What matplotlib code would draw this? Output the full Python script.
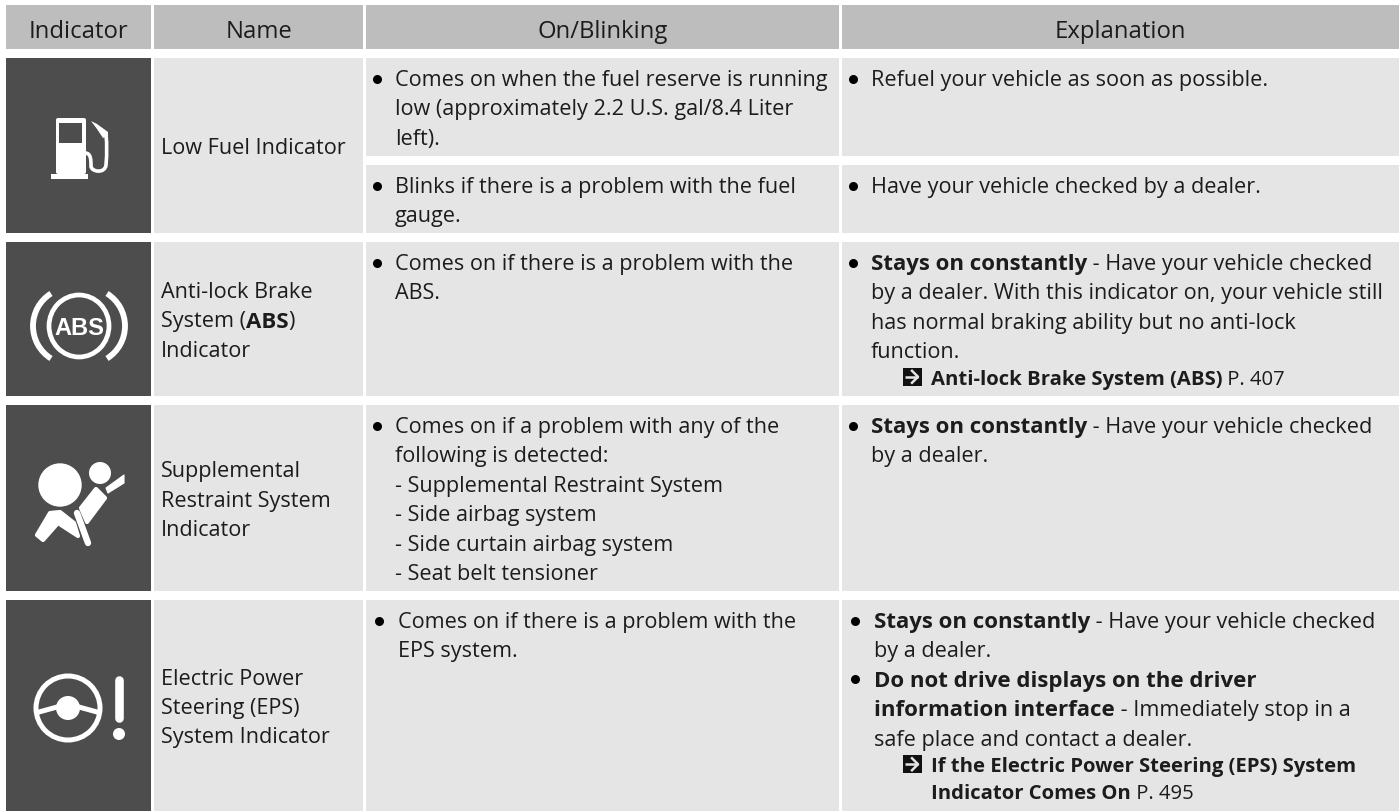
import matplotlib
matplotlib.use("Agg")
import matplotlib.pyplot as plt
from matplotlib.patches import Rectangle, Circle, Ellipse, Arc, Polygon, FancyBboxPatch, PathPatch
from matplotlib.path import Path

plt.rcParams['font.family'] = ['Open Sans', 'DejaVu Sans']

# Table text ("**" marks bold, "• " a bullet, "> " a cross reference, "+" its second line)
headers = ["Indicator", "Name", "On/Blinking", "Explanation"]

names = [
    ["Low Fuel Indicator"],
    ["Anti-lock Brake", "System (**ABS**)", "Indicator"],
    ["Supplemental", "Restraint System", "Indicator"],
    ["Electric Power", "Steering (EPS)", "System Indicator"],
]

on_blinking = [
    ["• Comes on when the fuel reserve is running", "low (approximately 2.2 U.S. gal/8.4 Liter", "left)."],
    ["• Blinks if there is a problem with the fuel", "gauge."],
    ["• Comes on if there is a problem with the", "ABS."],
    ["• Comes on if a problem with any of the", "following is detected:", "- Supplemental Restraint System",
     "- Side airbag system", "- Side curtain airbag system", "- Seat belt tensioner"],
    ["• Comes on if there is a problem with the", "EPS system."],
]

explanation = [
    ["• Refuel your vehicle as soon as possible."],
    ["• Have your vehicle checked by a dealer."],
    ["• **Stays on constantly** - Have your vehicle checked", "by a dealer. With this indicator on, your vehicle still",
     "has normal braking ability but no anti-lock", "function.", "> **Anti-lock Brake System (ABS)** P. 407"],
    ["• **Stays on constantly** - Have your vehicle checked", "by a dealer."],
    ["• **Stays on constantly** - Have your vehicle checked", "by a dealer.",
     "• **Do not drive displays on the driver**", "**information interface** - Immediately stop in a",
     "safe place and contact a dealer.", "> **If the Electric Power Steering (EPS) System**",
     "+**Indicator Comes On** P. 495"],
]

# Layout in image pixels
col_edges = [(6, 151), (154, 363), (366, 839), (842, 1399)]
head_band = (5, 49)
name_rows = [(58, 233), (242, 396), (405, 591), (600, 811)]
cell_rows = [(58, 156), (165, 233), (242, 396), (405, 591), (600, 811)]
cell_shift = [0, 0, 0, 0, 3]

HEAD_GREY = "#bdbdbd"
CELL_GREY = "#e5e5e5"
ICON_GREY = "#4d4d4d"
INK = "#1c1c1c"
FS = 15.6
FS_BOLD = 16.0
FS_REF = 14.6
FS_HEAD = 17.2
PITCH = 29.45

fig = plt.figure(figsize=(13.99, 8.11), dpi=100)
ax = fig.add_axes([0, 0, 1, 1])
ax.set_xlim(0, 1399)
ax.set_ylim(811, 0)
ax.axis("off")
renderer = fig.canvas.get_renderer()


def band(x0, x1, y0, y1, color):
    ax.add_patch(Rectangle((x0, y0), x1 - x0, y1 - y0, fc=color, ec="none"))


def run_width(s, weight, size):
    # trailing spaces are not measured on their own, so measure against a bar
    a = ax.text(0, 0, s + "|", fontsize=size, fontweight=weight)
    b = ax.text(0, 0, "|", fontsize=size, fontweight=weight)
    w = a.get_window_extent(renderer).width - b.get_window_extent(renderer).width
    a.remove()
    b.remove()
    return w


def draw_runs(x, y, line, ref=False):
    parts = line.split("**")
    for i, part in enumerate(parts):
        if not part:
            continue
        weight = "bold" if i % 2 else "normal"
        size = FS_REF if ref else (FS_BOLD if i % 2 else FS)
        ax.text(x, y, part, fontsize=size, fontweight=weight, color=INK, va="baseline", ha="left")
        x += run_width(part, weight, size)


def ref_arrow(x, y):
    band(x, x + 19, y - 17, y + 1, "#111111")
    ax.plot([x + 2, x + 15], [y - 8, y - 8], color=CELL_GREY, lw=1.8, solid_capstyle="butt")
    ax.plot([x + 9, x + 15, x + 9], [y - 14, y - 8, y - 2], color=CELL_GREY, lw=1.8)


def draw_cell(col_x, top, lines, shift):
    y = top + 28
    for i, line in enumerate(lines):
        if line.startswith("• "):
            ax.plot([col_x + 11 + shift / 2], [y - 7.5], "o", ms=6.5, color="#000000", mec="none")
            draw_runs(col_x + 29 + shift, y, line[2:])
        elif line.startswith("> "):
            y -= 3
            ref_arrow(col_x + 61, y)
            draw_runs(col_x + 89, y, line[2:], ref=True)
        elif line.startswith("+"):
            y -= 2.5
            draw_runs(col_x + 89, y, line[1:], ref=True)
        else:
            draw_runs(col_x + 29 + shift, y, line)
        y += PITCH


# header + body bands
for (x0, x1), label in zip(col_edges, headers):
    band(x0, x1, head_band[0], head_band[1], HEAD_GREY)
    ax.text((x0 + x1) / 2, 37.7, label, fontsize=FS_HEAD, color=INK, ha="center", va="baseline")

for top, bot in name_rows:
    band(*col_edges[0], top, bot, ICON_GREY)
    band(*col_edges[1], top, bot, CELL_GREY)

for top, bot in cell_rows:
    band(*col_edges[2], top, bot, CELL_GREY)
    band(*col_edges[3], top, bot, CELL_GREY)

# text
for (top, bot), lines in zip(name_rows, names):
    mid = (top + bot) / 2 + 8.5
    for i, line in enumerate(lines):
        draw_runs(161, mid + (i - (len(lines) - 1) / 2) * PITCH, line)

for (top, bot), lines, shift in zip(cell_rows, on_blinking, cell_shift):
    draw_cell(col_edges[2][0], top, lines, shift)

for (top, bot), lines, shift in zip(cell_rows, explanation, cell_shift):
    draw_cell(col_edges[3][0], top, lines, shift)

# --- icons ---
W = "white"

# fuel pump
ax.add_patch(FancyBboxPatch((56, 118), 30, 56, boxstyle="round,pad=0,rounding_size=2", fc=W, ec="none"))
band(51, 88, 174, 179, W)
band(59, 82, 123, 143, ICON_GREY)
hose = Path([(85, 153), (91, 153), (91, 160), (91, 166), (91, 172), (105, 174), (106, 165), (107, 152), (107, 145), (106, 135)],
            [Path.MOVETO] + [Path.CURVE4] * 9)
ax.add_patch(PathPatch(hose, fc="none", ec=W, lw=2.6))
ax.add_patch(Polygon([(91, 121), (97, 124), (108, 132), (108, 136), (103, 138), (97, 129)], closed=True, fc=W, ec="none"))

# ABS lamp
ax.add_patch(Ellipse((79, 326), 60, 62, fc="none", ec=W, lw=3.4))
ax.add_patch(Arc((71.3, 326), 76.6, 76.6, theta1=122, theta2=238, ec=W, lw=4.2))
ax.add_patch(Arc((86.7, 326), 76.6, 76.6, theta1=-58, theta2=58, ec=W, lw=4.2))
ax.text(79, 326, "ABS", color=W, fontsize=17, fontweight="bold", ha="center", va="center_baseline",
        family=['Liberation Sans'])

# airbag
ax.add_patch(Circle((60, 485), 21.7, fc=W, ec="none"))
ax.add_patch(Circle((100, 473), 11, fc=W, ec="none"))
ax.add_patch(Polygon([(96, 489), (105, 498), (87, 522), (81, 508)], closed=True, fc=W, ec=W, lw=3, joinstyle="round"))
ax.add_patch(Polygon([(106, 488), (124, 475), (124, 483), (108, 493)], closed=True, fc=W, ec=W, lw=0.8, joinstyle="round"))
ax.plot([77, 88], [513, 543], color=W, lw=4.6, solid_capstyle="round")
ax.add_patch(Polygon([(37, 535), (50, 513), (60, 512), (74, 523), (78, 536), (58, 523), (43, 540)],
                     closed=True, fc=W, ec=W, lw=3, joinstyle="round"))

# steering wheel + exclamation mark
ax.add_patch(Circle((68, 708), 32, fc="none", ec=W, lw=3.6))
ax.add_patch(Circle((68, 708), 12, fc=W, ec="none"))
ax.plot([39, 68], [712, 704], color=W, lw=3.6)
ax.plot([97, 68], [712, 704], color=W, lw=3.6)
ax.plot([119, 119], [680, 718], color=W, lw=6.2, solid_capstyle="round")
ax.add_patch(Circle((119, 734), 6, fc=W, ec="none"))

fig.savefig("out.png", dpi=100, facecolor="white")
